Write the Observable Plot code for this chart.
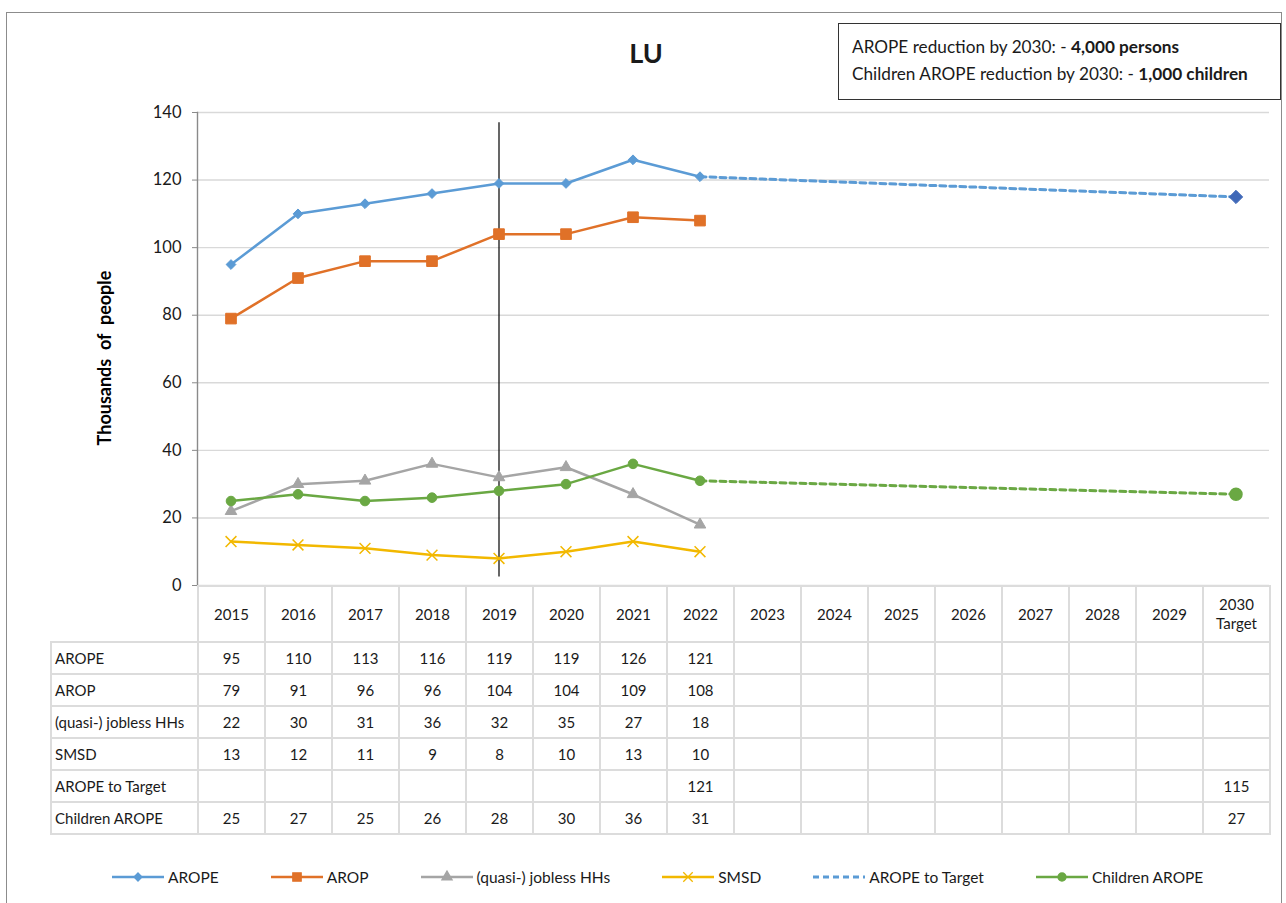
<!DOCTYPE html>
<html>
<head>
<meta charset="utf-8">
<script src="https://cdn.jsdelivr.net/npm/d3@7"></script>
<script src="https://cdn.jsdelivr.net/npm/@observablehq/plot@0.6"></script>
<style>
  html, body { margin: 0; padding: 0; background: #fff; }
  body { font-family: Lato, "Open Sans", sans-serif; color: #1a1a1a; }
  #chart { position: relative; width: 1286px; height: 903px; overflow: hidden; }
  #frame { position: absolute; left: 6px; top: 12px; width: 1276px; height: 900px; border: 1.5px solid #8c8c8c; box-sizing: border-box; }
  #title { position: absolute; left: 0; width: 1292px; top: 36px; text-align: center; font-size: 27px; font-weight: bold; }
  #box { position: absolute; left: 838px; top: 23px; width: 443px; height: 77px; border: 1.5px solid #333; box-sizing: border-box; padding: 9px 0 0 13px; font-size: 17.2px; line-height: 27px; }
  #plot { position: absolute; left: 0; top: 0; }
  #tbl { position: absolute; left: 50px; top: 585px; border-collapse: collapse; table-layout: fixed; font-size: 15px; }
  #tbl td { border: 2px solid #dcdcdc; text-align: center; padding: 0; height: 30px; }
  #tbl tr.head td { height: 54px; line-height: 19px; }
  #tbl td.lab { text-align: left; padding-left: 3px; white-space: nowrap; }
  #tbl td.corner { border-top: none; border-left: none; }
  #legend { position: absolute; left: 112px; top: 868px; display: flex; align-items: center; gap: 52px; font-size: 15.5px; }
  .item { display: flex; align-items: center; gap: 4px; }
</style>
</head>
<body>
<div id="chart">
  <div id="frame"></div>
  <div id="title">LU</div>
  <div id="box">AROPE reduction by 2030: - <b>4,000 persons</b><br>Children AROPE reduction by 2030: - <b>1,000 children</b></div>
  <div id="plot"></div>
  <table id="tbl"></table>
  <div id="legend"></div>
</div>
<script>
// ---- data ----
const categories = ["2015","2016","2017","2018","2019","2020","2021","2022","2023","2024","2025","2026","2027","2028","2029","2030 Target"];
const years = ["2015","2016","2017","2018","2019","2020","2021","2022"];
const arope    = [95, 110, 113, 116, 119, 119, 126, 121];
const arop     = [79, 91, 96, 96, 104, 104, 109, 108];
const jobless  = [22, 30, 31, 36, 32, 35, 27, 18];
const smsd     = [13, 12, 11, 9, 8, 10, 13, 10];
const children = [25, 27, 25, 26, 28, 30, 36, 31];
const aropeToTargetYears = ["2022", "2030 Target"];
const aropeToTarget = [121, 115];
const childrenTargetYears = ["2022", "2030 Target"];
const childrenTarget = [31, 27];
const yTicks = [0, 20, 40, 60, 80, 100, 120, 140];
const markerYear = "2019";
const markerSpan = [137, 2.5];
const seriesNames = ["AROPE", "AROP", "(quasi-) jobless HHs", "SMSD", "AROPE to Target", "Children AROPE"];
const yTitle = "Thousands\u00a0 of\u00a0 people";

const colors = {
  AROPE: "#5b9bd5", AROP: "#e07128", jobless: "#a5a5a5", SMSD: "#f2b800",
  target: "#5b9bd5", targetMarker: "#3f68b8", children: "#6aa843"
};

const toRows = (xs, vs) => xs.map((x, i) => ({x, v: vs[i]}));
const dAROPE = toRows(years, arope);
const dAROP = toRows(years, arop);
const dJob = toRows(years, jobless);
const dSMSD = toRows(years, smsd);
const dChild = toRows(years, children);
const dTarget = toRows(aropeToTargetYears, aropeToTarget);
const dChildT = toRows(childrenTargetYears, childrenTarget);

const plot = Plot.plot({
  width: 1286,
  height: 590,
  marginTop: 112,
  marginBottom: 5,
  marginLeft: 197,
  marginRight: 17,
  style: {fontFamily: "Lato, 'Open Sans', sans-serif", fontSize: "16px", background: "transparent", overflow: "visible"},
  x: {type: "band", domain: categories, padding: 0, axis: null},
  y: {domain: [0, 140], axis: null},
  marks: [
    Plot.gridY(yTicks, {stroke: "#d9d9d9", strokeOpacity: 1, strokeWidth: 1.4}),
    Plot.frame({anchor: "left", stroke: "#8a8a8a", strokeWidth: 1.4}),
    Plot.axisY(yTicks, {tickSize: 5, tickPadding: 11, stroke: "#8a8a8a", fill: "#1a1a1a", label: null, fontSize: 16.5}),
    Plot.text([yTitle], {frameAnchor: "left", textAnchor: "middle", rotate: -90, dx: -92, dy: 9, fontWeight: "bold", fontSize: 18, letterSpacing: 1, fill: "#000"}),
    Plot.ruleX([markerYear], {y1: markerSpan[0], y2: markerSpan[1], stroke: "#000", strokeWidth: 1.2}),
    // projections
    Plot.line(dTarget, {x: "x", y: "v", stroke: colors.target, strokeWidth: 3, strokeDasharray: "6,4"}),
    Plot.line(dChildT, {x: "x", y: "v", stroke: colors.children, strokeWidth: 3, strokeDasharray: "6,4"}),
    // series lines
    Plot.line(dSMSD, {x: "x", y: "v", stroke: colors.SMSD, strokeWidth: 2.5}),
    Plot.line(dJob, {x: "x", y: "v", stroke: colors.jobless, strokeWidth: 2.5}),
    Plot.line(dChild, {x: "x", y: "v", stroke: colors.children, strokeWidth: 2.5}),
    Plot.line(dAROP, {x: "x", y: "v", stroke: colors.AROP, strokeWidth: 2.5}),
    Plot.line(dAROPE, {x: "x", y: "v", stroke: colors.AROPE, strokeWidth: 2.5}),
    // markers
    Plot.dot(dSMSD, {x: "x", y: "v", symbol: "times", stroke: colors.SMSD, strokeWidth: 1.5, r: 5}),
    Plot.dot(dJob, {x: "x", y: "v", symbol: "triangle", fill: colors.jobless, stroke: colors.jobless, strokeWidth: 1, r: 4.3}),
    Plot.dot(dChild, {x: "x", y: "v", symbol: "circle", fill: colors.children, stroke: colors.children, strokeWidth: 1, r: 4.8}),
    Plot.dot(dAROP, {x: "x", y: "v", symbol: "square", fill: colors.AROP, stroke: colors.AROP, strokeWidth: 1, r: 6}),
    Plot.dot(dAROPE, {x: "x", y: "v", symbol: "diamond2", fill: colors.AROPE, stroke: colors.AROPE, strokeWidth: 1, r: 4.4}),
    Plot.dot(dTarget.slice(1), {x: "x", y: "v", symbol: "diamond2", fill: colors.targetMarker, stroke: colors.targetMarker, strokeWidth: 1, r: 6}),
    Plot.dot(dChildT.slice(1), {x: "x", y: "v", symbol: "circle", fill: colors.children, stroke: colors.children, r: 6})
  ]
});
document.getElementById("plot").appendChild(plot);

// ---- data table aligned with the x scale ----
const xs = plot.scale("x");
const bw = xs.bandwidth;
const labelW = xs.range[0] - 50;
const tbl = document.getElementById("tbl");
const cg = document.createElement("colgroup");
cg.innerHTML = `<col style="width:${labelW}px">` + categories.map(() => `<col style="width:${bw}px">`).join("");
tbl.appendChild(cg);
tbl.style.width = (labelW + bw * categories.length) + "px";
const full = (xsArr, vs) => categories.map(c => { const i = xsArr.indexOf(c); return i >= 0 ? vs[i] : ""; });
const tableRows = [
  [seriesNames[0], full(years, arope)],
  [seriesNames[1], full(years, arop)],
  [seriesNames[2], full(years, jobless)],
  [seriesNames[3], full(years, smsd)],
  [seriesNames[4], full(aropeToTargetYears, aropeToTarget)],
  [seriesNames[5], full([...years, "2030 Target"], [...children, childrenTarget[1]])]
];
let html = `<tr class="head"><td class="corner"></td>` + categories.map(c => `<td>${c.replace(" ", "<br>")}</td>`).join("") + `</tr>`;
for (const [name, vals] of tableRows) {
  html += `<tr><td class="lab">${name}</td>` + vals.map(v => `<td>${v}</td>`).join("") + `</tr>`;
}
tbl.insertAdjacentHTML("beforeend", html);

// ---- legend ----
const legendDefs = [
  {name: seriesNames[0], color: colors.AROPE, sym: d3.symbolDiamond2, size: 40, fill: true},
  {name: seriesNames[1], color: colors.AROP, sym: d3.symbolSquare, size: 70, fill: true},
  {name: seriesNames[2], color: colors.jobless, sym: d3.symbolTriangle, size: 45, fill: true},
  {name: seriesNames[3], color: colors.SMSD, sym: d3.symbolTimes, size: 60, fill: false},
  {name: seriesNames[4], color: colors.target, sym: null, dash: "6,4"},
  {name: seriesNames[5], color: colors.children, sym: d3.symbolCircle, size: 50, fill: true}
];
const legend = document.getElementById("legend");
for (const d of legendDefs) {
  const w = 52, h = 16;
  let svg = `<svg width="${w}" height="${h}"><line x1="0" x2="${w}" y1="${h/2}" y2="${h/2}" stroke="${d.color}" stroke-width="${d.dash ? 3 : 2.5}" ${d.dash ? `stroke-dasharray="${d.dash}"` : ""}/>`;
  if (d.sym) {
    const p = d3.symbol(d.sym, d.size)();
    svg += `<path transform="translate(${w/2},${h/2})" d="${p}" fill="${d.fill ? d.color : "none"}" stroke="${d.color}" stroke-width="1.3"/>`;
  }
  svg += `</svg>`;
  legend.insertAdjacentHTML("beforeend", `<div class="item">${svg}<span>${d.name}</span></div>`);
}
</script>
</body>
</html>
